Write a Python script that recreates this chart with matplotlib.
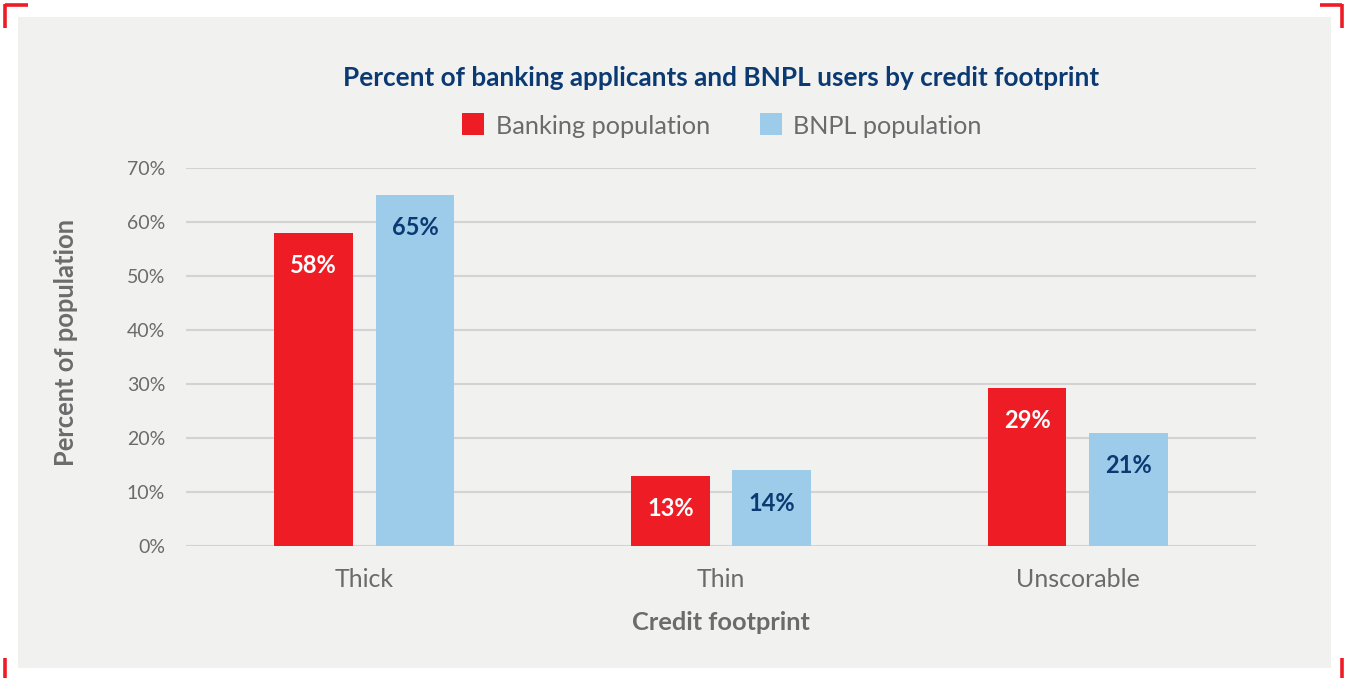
import matplotlib
matplotlib.use("Agg")
import matplotlib.pyplot as plt
from matplotlib.patches import Rectangle
from matplotlib.lines import Line2D
import numpy as np

categories = ["Thick", "Thin", "Unscorable"]
banking = [58, 13, 29.3]
bnpl = [65, 14, 21]
banking_labels = ["58%", "13%", "29%"]
bnpl_labels = ["65%", "14%", "21%"]
yticks = [0, 10, 20, 30, 40, 50, 60, 70]

RED = "#ee1c25"
BLUE = "#9dcbea"
NAVY = "#0b3a73"
GRAY = "#6b6b6b"
PANEL = "#f1f1f0"
FONT = ["Lato", "DejaVu Sans"]

W, H = 1347, 678
fig = plt.figure(figsize=(W / 100, H / 100), dpi=100)
fig.patch.set_facecolor("white")

def fx(px):
    return px / W

def fy(py):
    return 1 - py / H

# panel
fig.patches.append(Rectangle((fx(18), fy(668)), fx(1331) - fx(18), fy(17) - fy(668),
                             transform=fig.transFigure, facecolor=PANEL, edgecolor="none", zorder=-10))
# corner marks
lw = 2.6
for xs, ys in [((5, 5), (4, 28)), ((5, 28), (5, 5)),
               ((1320, 1342), (5, 5)), ((1342, 1342), (4, 28)),
               ((5, 5), (658, 678)), ((1342, 1342), (658, 678))]:
    fig.add_artist(Line2D([fx(x) for x in xs], [fy(y) for y in ys], color=RED, lw=lw,
                          transform=fig.transFigure, solid_capstyle="butt"))

ax = fig.add_axes([fx(186), fy(546), fx(1256) - fx(186), fy(168) - fy(546)])
ax.set_facecolor("none")
ax.set_zorder(2)

x = np.arange(len(categories))
bw = 0.221
off = 0.142
b1 = ax.bar(x - off, banking, bw, color=RED, zorder=3)
b2 = ax.bar(x + off, bnpl, bw, color=BLUE, zorder=3)

for rect, lab in zip(b1, banking_labels):
    ax.text(rect.get_x() + rect.get_width() / 2, rect.get_height() - 6.1, lab,
            ha="center", va="center", color="white", fontsize=17, fontweight="bold",
            family=FONT, zorder=4)
for rect, lab in zip(b2, bnpl_labels):
    ax.text(rect.get_x() + rect.get_width() / 2, rect.get_height() - 6.1, lab,
            ha="center", va="center", color=NAVY, fontsize=17, fontweight="bold",
            family=FONT, zorder=4)

ax.set_xlim(-0.5, 2.5)
ax.set_ylim(0, 70)
ax.set_yticks(yticks)
ax.set_yticklabels([f"{t}%" for t in yticks], family=FONT, fontsize=14, color=GRAY)
ax.set_xticks(x)
ax.set_xticklabels(categories, family=FONT, fontsize=18, color=GRAY)
ax.tick_params(axis="both", length=0)
ax.tick_params(axis="y", pad=15)
ax.tick_params(axis="x", pad=16)
ax.grid(axis="y", color="#d3d3d3", lw=1.5, zorder=0)
ax.set_axisbelow(True)
for s in ax.spines.values():
    s.set_visible(False)

fig.text(fx(721), fy(623), "Credit footprint", ha="center", va="center",
         family=FONT, fontsize=18.3, fontweight="bold", color=GRAY)
fig.text(fx(66), fy(343), "Percent of population", ha="center", va="center", rotation=90,
         family=FONT, fontsize=18.4, fontweight="bold", color=GRAY)

fig.text(fx(721), fy(78), "Percent of banking applicants and BNPL users by credit footprint",
         ha="center", va="center", family=FONT, fontsize=18.8, fontweight="bold", color=NAVY)

# legend
fig.patches.append(Rectangle((fx(462), fy(135)), fx(22), fy(113) - fy(135),
                             transform=fig.transFigure, facecolor=RED, edgecolor="none"))
fig.text(fx(496), fy(126), "Banking population", ha="left", va="center",
         family=FONT, fontsize=18.2, color=GRAY)
fig.patches.append(Rectangle((fx(760), fy(135)), fx(22), fy(113) - fy(135),
                             transform=fig.transFigure, facecolor=BLUE, edgecolor="none"))
fig.text(fx(793), fy(126), "BNPL population", ha="left", va="center",
         family=FONT, fontsize=18.2, color=GRAY)

fig.savefig("out.png", dpi=100, facecolor="white")
